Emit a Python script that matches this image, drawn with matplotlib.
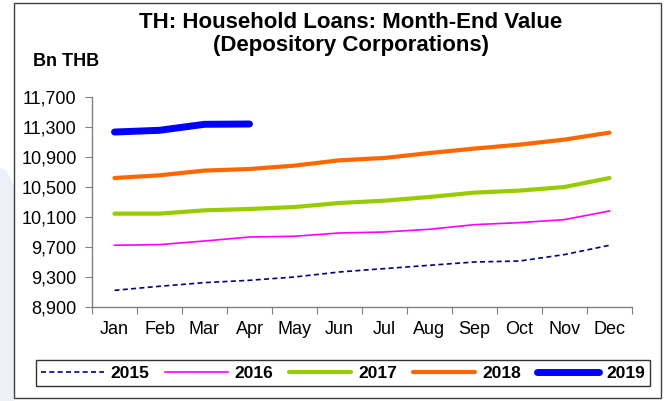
import matplotlib
matplotlib.use("Agg")
import matplotlib.pyplot as plt
from matplotlib.patches import Rectangle, Polygon
from matplotlib.lines import Line2D

months = ["Jan", "Feb", "Mar", "Apr", "May", "Jun", "Jul", "Aug", "Sep", "Oct", "Nov", "Dec"]
y2015 = [9122, 9176, 9225, 9256, 9300, 9367, 9412, 9456, 9500, 9513, 9599, 9723]
y2016 = [9723, 9732, 9780, 9833, 9843, 9887, 9900, 9936, 9998, 10025, 10065, 10180]
y2017 = [10145, 10145, 10189, 10207, 10233, 10287, 10318, 10367, 10425, 10452, 10500, 10620]
y2018 = [10620, 10656, 10719, 10740, 10785, 10856, 10887, 10953, 11012, 11065, 11132, 11225]
y2019 = [11233, 11256, 11336, 11340]
yticks = [8900, 9300, 9700, 10100, 10500, 10900, 11300, 11700]

plt.rcParams['font.family'] = ['Liberation Sans', 'DejaVu Sans']

W, H = 669, 401
fig = plt.figure(figsize=(W / 100, H / 100), dpi=100)

# faint watermark at left edge
fig.patches.append(Polygon([(0, 0), (14 / W, 0), (14 / W, 1 - 185 / H), (6 / W, 1 - 170 / H), (0, 1 - 168 / H)],
                           closed=True, transform=fig.transFigure,
                           facecolor="#eef0f8", edgecolor="none", zorder=-5))

ax = fig.add_axes([92 / W, 1 - 307 / H, (632 - 92) / W, (307 - 97) / H])

x = list(range(12))
ax.plot(x, y2015, color="#000080", lw=1.2, ls=(0, (3, 2)), label="2015")
ax.plot(x, y2016, color="#FF00FF", lw=1.2, label="2016")
ax.plot(x, y2017, color="#99CC00", lw=3, label="2017", solid_capstyle="round")
ax.plot(x, y2018, color="#FF6600", lw=3, label="2018", solid_capstyle="round")
ax.plot(x[:len(y2019)], y2019, color="#0000FF", lw=5, label="2019", solid_capstyle="round")

ax.set_xlim(-0.5, 11.5)
ax.set_ylim(8900, 11700)
ax.set_yticks(yticks)
ax.set_yticklabels([f"{v:,}" for v in yticks], fontsize=13)
ax.set_xticks([i - 0.5 for i in range(13)])
ax.set_xticklabels([])
ax.set_xticks(x, minor=True)
ax.set_xticklabels(months, minor=True, fontsize=13)
ax.tick_params(axis="x", which="major", length=5, color="#808080", direction="out")
ax.tick_params(axis="x", which="minor", length=0, pad=10)
ax.tick_params(axis="y", length=5, color="#808080", direction="out", pad=6)
for s in ["top", "right"]:
    ax.spines[s].set_visible(False)
for s in ["left", "bottom"]:
    ax.spines[s].set_color("#808080")
    ax.spines[s].set_linewidth(1)

fig.text(351 / W, 1 - 23 / H, "TH: Household Loans: Month-End Value", ha="center", va="center",
         fontsize=16, fontweight="bold")
fig.text(351 / W, 1 - 45 / H, "(Depository Corporations)", ha="center", va="center",
         fontsize=16, fontweight="bold")
fig.text(33 / W, 1 - 61 / H, "Bn THB", ha="left", va="center", fontsize=13, fontweight="bold")

handles, labels = ax.get_legend_handles_labels()
leg = fig.legend(handles, labels, loc="center", bbox_to_anchor=(343 / W, 1 - 373 / H),
                 ncol=5, frameon=True, fancybox=False, edgecolor="black",
                 prop={"weight": "bold", "size": 12.5}, handlelength=3.6,
                 columnspacing=0.9, handletextpad=0.4, borderpad=0.3)
leg.get_frame().set_linewidth(1)

fig.patches.append(Rectangle((14 / W, 1 - 398 / H), (661 - 14) / W, (398 - 3) / H,
                             transform=fig.transFigure, fill=False, edgecolor="#404040", lw=1))

fig.savefig("out.png", dpi=100)
